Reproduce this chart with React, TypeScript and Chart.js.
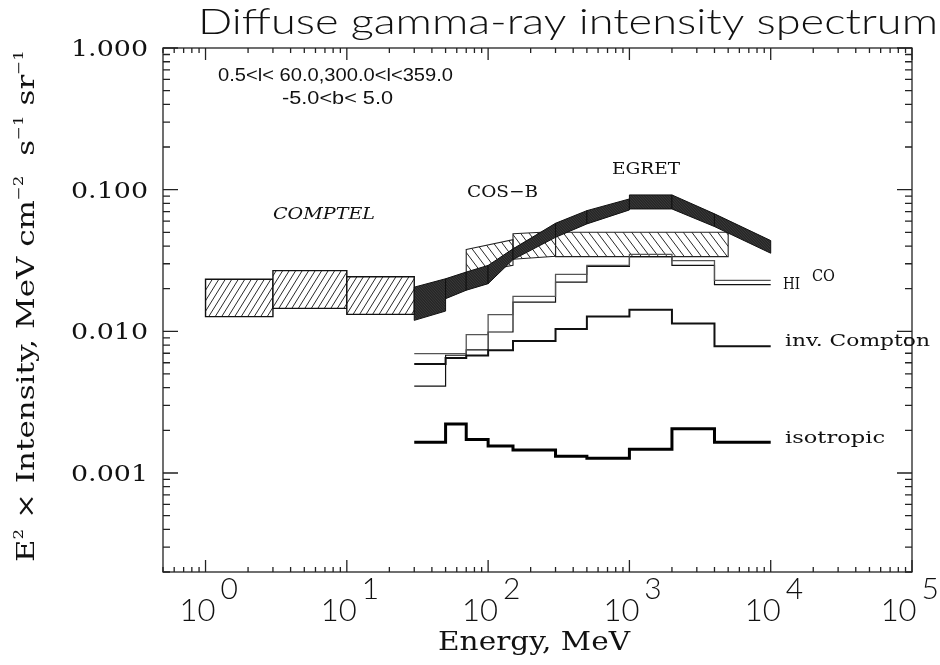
import React, { useEffect, useRef } from 'react';
import { Chart, registerables } from 'chart.js';

Chart.register(...registerables);

// ---------- data ----------
// COMPTEL boxes (energy bin edges, MeV) with upper / lower intensity
const comptelEdges = [1, 3, 10, 30];
const comptelHigh = [0.0233, 0.0268, 0.0243];
const comptelLow = [0.0127, 0.01452, 0.01318];

// COS-B boxes: bins with sloped upper / lower bounds
const cosbEdges = [70, 150, 300, 5000];
const cosbHighStart = [0.0378, 0.0488, 0.05];
const cosbHighEnd = [0.0443, 0.0506, 0.05];
const cosbLowStart = [0.0255, 0.0323, 0.0337];
const cosbLowEnd = [0.0292, 0.0339, 0.0337];

// EGRET band segments
const egretEdges = [30, 50, 70, 100, 150, 300, 500, 1000, 2000, 4000, 10000];
const egretHighStart = [0.0205, 0.0235, 0.0262, 0.0292, 0.0382, 0.0579, 0.0711, 0.0918, 0.0918, 0.0675];
const egretHighEnd = [0.0235, 0.0262, 0.0292, 0.0382, 0.0579, 0.0711, 0.086, 0.0918, 0.0675, 0.0437];
const egretLowStart = [0.01195, 0.017, 0.0195, 0.0217, 0.0321, 0.0461, 0.0573, 0.0731, 0.0731, 0.0549];
const egretLowEnd = [0.0139, 0.0195, 0.0217, 0.0321, 0.0461, 0.0573, 0.0719, 0.0731, 0.0549, 0.0356];

// model components (histograms over modelEdges)
const modelEdges = [30, 50, 70, 100, 150, 300, 500, 1000, 2000, 4000, 10000];
const hiValues = [0.00695, 0.00695, 0.00948, 0.01312, 0.01764, 0.0252, 0.0292, 0.0349, 0.0316, 0.0229];
const coValues = [0.0041, 0.00678, 0.0074, 0.00989, 0.01607, 0.02223, 0.0287, 0.0337, 0.0292, 0.02134];
const icValues = [0.00588, 0.00647, 0.00676, 0.00735, 0.00855, 0.0104, 0.01271, 0.01422, 0.01137, 0.00785];
const isoValues = [0.00165, 0.00222, 0.00172, 0.00155, 0.00145, 0.00131, 0.00127, 0.00147, 0.00205, 0.00165];

// axes
const xRange = [0.5, 1e5];
const yRange = [0.0002, 1];
const xTickExponents = ['0', '1', '2', '3', '4', '5'];
const yTickValues = [1, 0.1, 0.01, 0.001];
const yTickLabels = ['1.000', '0.100', '0.010', '0.001'];

const TITLE = 'Diffuse gamma-ray intensity spectrum';
const REGION1 = '0.5<l< 60.0,300.0<l<359.0';
const REGION2 = '-5.0<b< 5.0';

const SERIF = '"DejaVu Serif", "Liberation Serif", serif';
const SANS = 'Lato, Roboto, "DejaVu Sans", sans-serif';

function stepPoints(vals: number[]) {
  return modelEdges.map((e, i) => ({ x: e, y: vals[Math.min(i, vals.length - 1)] }));
}

function fitText(ctx: CanvasRenderingContext2D, text: string, x: number, y: number, font: string, width: number | null, align: 'left' | 'right' | 'center' = 'left') {
  ctx.save();
  ctx.font = font;
  ctx.textBaseline = 'alphabetic';
  ctx.textAlign = 'left';
  const w = ctx.measureText(text).width;
  const sx = width ? width / w : 1;
  const tw = w * sx;
  let x0 = x;
  if (align === 'right') x0 = x - tw;
  if (align === 'center') x0 = x - tw / 2;
  ctx.translate(x0, y);
  ctx.scale(sx, 1);
  ctx.fillText(text, 0, 0);
  ctx.restore();
}

type Part = { t: string; sup?: boolean };
function richText(ctx: CanvasRenderingContext2D, parts: Part[], font: string, supFont: string, rise: number, width: number | null) {
  ctx.save();
  let total = 0;
  for (const p of parts) {
    ctx.font = p.sup ? supFont : font;
    total += ctx.measureText(p.t).width;
  }
  const sx = width ? width / total : 1;
  ctx.scale(sx, 1);
  let x = 0;
  ctx.textBaseline = 'alphabetic';
  ctx.textAlign = 'left';
  for (const p of parts) {
    ctx.font = p.sup ? supFont : font;
    ctx.fillText(p.t, x, p.sup ? -rise : 0);
    x += ctx.measureText(p.t).width;
  }
  ctx.restore();
}

function polyPath(chart: any, pts: number[][]) {
  const xs = chart.scales.x, ys = chart.scales.y;
  const ctx = chart.ctx as CanvasRenderingContext2D;
  ctx.beginPath();
  pts.forEach(([x, y], i) => {
    const px = xs.getPixelForValue(x), py = ys.getPixelForValue(y);
    if (i === 0) ctx.moveTo(px, py); else ctx.lineTo(px, py);
  });
  ctx.closePath();
}

function hatchClip(ctx: CanvasRenderingContext2D, spacing: number, ratio: number, dir: 1 | -1, color: string, lw: number) {
  const top = 0, bottom = 665;
  const h = bottom - top;
  ctx.strokeStyle = color;
  ctx.lineWidth = lw;
  ctx.beginPath();
  for (let c = -h * ratio - 50; c < 1000 + h * ratio; c += spacing) {
    if (dir === 1) {
      ctx.moveTo(c, bottom);
      ctx.lineTo(c + ratio * h, top);
    } else {
      ctx.moveTo(c, top);
      ctx.lineTo(c + ratio * h, bottom);
    }
  }
  ctx.stroke();
}

const bandsPlugin = {
  id: 'bands',
  beforeDatasetsDraw(chart: any) {
    const ctx = chart.ctx as CanvasRenderingContext2D;
    const ca = chart.chartArea;
    ctx.save();
    ctx.beginPath();
    ctx.rect(ca.left, ca.top, ca.right - ca.left, ca.bottom - ca.top);
    ctx.clip();
    // COMPTEL
    for (let i = 0; i < comptelHigh.length; i++) {
      const a = comptelEdges[i], b = comptelEdges[i + 1];
      const pts = [[a, comptelHigh[i]], [b, comptelHigh[i]], [b, comptelLow[i]], [a, comptelLow[i]]];
      ctx.save();
      polyPath(chart, pts);
      ctx.fillStyle = '#fff';
      ctx.fill();
      ctx.clip();
      hatchClip(ctx, 6.5, 0.62, 1, '#111', 0.9);
      ctx.restore();
      polyPath(chart, pts);
      ctx.strokeStyle = '#111';
      ctx.lineWidth = 1.4;
      ctx.stroke();
    }
    // COS-B
    for (let i = 0; i < cosbHighStart.length; i++) {
      const a = cosbEdges[i], b = cosbEdges[i + 1];
      const pts = [[a, cosbHighStart[i]], [b, cosbHighEnd[i]], [b, cosbLowEnd[i]], [a, cosbLowStart[i]]];
      ctx.save();
      polyPath(chart, pts);
      ctx.clip();
      hatchClip(ctx, 8.6, 0.75, -1, '#111', 0.9);
      ctx.restore();
      polyPath(chart, pts);
      ctx.strokeStyle = '#222';
      ctx.lineWidth = 1.1;
      ctx.stroke();
    }
    // EGRET
    for (let i = 0; i < egretHighStart.length; i++) {
      const a = egretEdges[i], b = egretEdges[i + 1];
      const pts = [[a, egretHighStart[i]], [b, egretHighEnd[i]], [b, egretLowEnd[i]], [a, egretLowStart[i]]];
      ctx.save();
      polyPath(chart, pts);
      ctx.fillStyle = '#262626';
      ctx.fill();
      ctx.clip();
      hatchClip(ctx, 2.6, 0.9, -1, '#4a4a4a', 0.6);
      ctx.restore();
      polyPath(chart, pts);
      ctx.strokeStyle = '#111';
      ctx.lineWidth = 1;
      ctx.stroke();
    }
    ctx.restore();
  },
};

const framePlugin = {
  id: 'frame',
  afterDraw(chart: any) {
    const ctx = chart.ctx as CanvasRenderingContext2D;
    const xs = chart.scales.x, ys = chart.scales.y;
    const { left, right, top, bottom } = chart.chartArea;
    ctx.save();
    ctx.strokeStyle = '#222';
    ctx.lineWidth = 1.3;
    ctx.strokeRect(left, top, right - left, bottom - top);
    ctx.beginPath();
    for (let e = -1; e <= 5; e++) {
      for (let m = 1; m < 10; m++) {
        const v = m * Math.pow(10, e);
        if (v < xRange[0] * 0.999 || v > xRange[1] * 1.001) continue;
        const px = xs.getPixelForValue(v);
        const len = m === 1 ? 12 : 5;
        ctx.moveTo(px, bottom); ctx.lineTo(px, bottom - len);
        ctx.moveTo(px, top); ctx.lineTo(px, top + len);
      }
    }
    for (let e = -4; e <= 0; e++) {
      for (let m = 1; m < 10; m++) {
        const v = m * Math.pow(10, e);
        if (v < yRange[0] * 0.999 || v > yRange[1] * 1.001) continue;
        const py = ys.getPixelForValue(v);
        const len = m === 1 ? 15 : 7;
        ctx.moveTo(left, py); ctx.lineTo(left + len, py);
        ctx.moveTo(right, py); ctx.lineTo(right - len, py);
      }
    }
    ctx.stroke();

    ctx.fillStyle = '#111';
    yTickValues.forEach((v, i) => {
      const py = ys.getPixelForValue(v);
      fitText(ctx, yTickLabels[i], 148, py + 8, `23px ${SERIF}`, 77, 'right');
    });
    xTickExponents.forEach((ex) => {
      const px = xs.getPixelForValue(Math.pow(10, Number(ex)));
      ctx.textAlign = 'left';
      ctx.textBaseline = 'alphabetic';
      const baseFont = `300 31px ${SANS}`;
      const supFont = `300 30px ${SANS}`;
      ctx.font = baseFont;
      const wb = ctx.measureText('10').width;
      ctx.font = supFont;
      const ws = ctx.measureText(ex).width;
      let x0 = px - 26;
      const total = wb + 5 + ws;
      if (x0 + total > 939) x0 = 939 - total;
      ctx.font = baseFont;
      ctx.fillText('10', x0, 621);
      ctx.font = supFont;
      ctx.fillText(ex, x0 + wb + 5, 599);
    });
    fitText(ctx, 'Energy, MeV', 534, 650, `26px ${SERIF}`, 192, 'center');
    ctx.save();
    ctx.translate(34, 562);
    ctx.rotate(-Math.PI / 2);
    richText(ctx, [
      { t: 'E' }, { t: '2', sup: true }, { t: ' × Intensity, MeV cm' }, { t: '−2', sup: true },
      { t: '  s' }, { t: '−1', sup: true }, { t: ' sr' }, { t: '−1', sup: true },
    ], `24px ${SERIF}`, `13px ${SERIF}`, 11, 512);
    ctx.restore();

    fitText(ctx, TITLE, 198, 34, `300 36px ${SANS}`, 740, 'left');

    fitText(ctx, REGION1, 218, 81, `18px "Liberation Sans", Arial, sans-serif`, 235, 'left');
    fitText(ctx, REGION2, 282, 104, `18px "Liberation Sans", Arial, sans-serif`, 111, 'left');
    fitText(ctx, 'COMPTEL', 273, 219, `italic 16px ${SERIF}`, 102, 'left');
    fitText(ctx, 'COS−B', 467, 197, `17px ${SERIF}`, 71, 'left');
    fitText(ctx, 'EGRET', 612, 174, `17px ${SERIF}`, 68, 'left');
    fitText(ctx, 'HI', 783, 289, `16px ${SERIF}`, 17, 'left');
    fitText(ctx, 'CO', 812, 281, `16px ${SERIF}`, 23, 'left');
    fitText(ctx, 'inv. Compton', 785, 346, `17px ${SERIF}`, 145, 'left');
    fitText(ctx, 'isotropic', 785, 443, `17px ${SERIF}`, 100, 'left');
    ctx.restore();
  },
};

export default function App() {
  const ref = useRef<HTMLCanvasElement | null>(null);
  useEffect(() => {
    if (!ref.current) return;
    const chart = new Chart(ref.current, {
      type: 'scatter',
      data: {
        datasets: [
          { label: 'HI', data: stepPoints(hiValues), showLine: true, stepped: 'before', borderColor: '#555', borderWidth: 1.3, pointRadius: 0 },
          { label: 'CO', data: stepPoints(coValues), showLine: true, stepped: 'before', borderColor: '#111', borderWidth: 1.2, pointRadius: 0 },
          { label: 'inv. Compton', data: stepPoints(icValues), showLine: true, stepped: 'before', borderColor: '#111', borderWidth: 2, pointRadius: 0 },
          { label: 'isotropic', data: stepPoints(isoValues), showLine: true, stepped: 'before', borderColor: '#000', borderWidth: 3, pointRadius: 0 },
        ] as any,
      },
      options: {
        animation: false,
        responsive: false,
        maintainAspectRatio: false,
        layout: { padding: { left: 163, right: 28, top: 48, bottom: 93 } },
        scales: {
          x: { type: 'logarithmic', min: xRange[0], max: xRange[1], display: false },
          y: { type: 'logarithmic', min: yRange[0], max: yRange[1], display: false },
        },
        plugins: { legend: { display: false }, tooltip: { enabled: false } },
      } as any,
      plugins: [bandsPlugin, framePlugin],
    });
    return () => chart.destroy();
  }, []);
  return (
    <div style={{ position: 'fixed', left: 0, top: 0, width: 940, height: 665, background: '#fff' }}>
      <canvas ref={ref} width={940} height={665} style={{ width: 940, height: 665, display: 'block' }} />
    </div>
  );
}
